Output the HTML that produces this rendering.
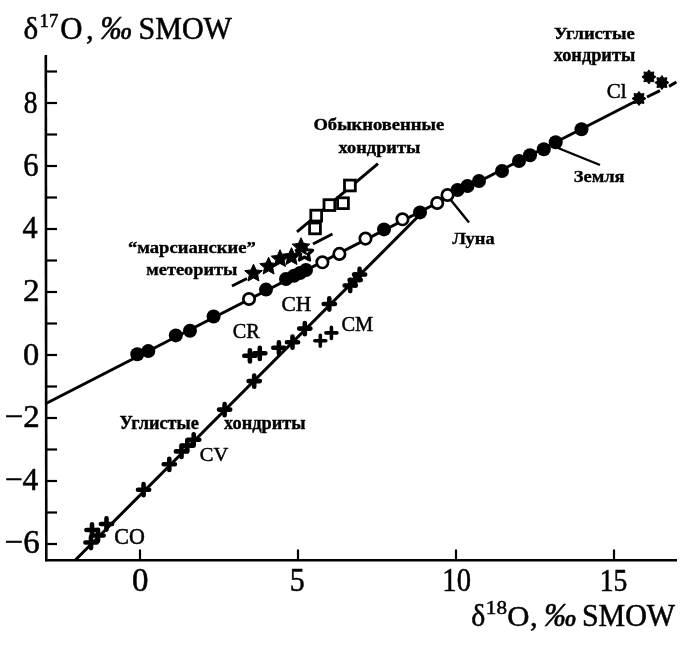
<!DOCTYPE html>
<html><head><meta charset="utf-8"><style>
html,body{margin:0;padding:0;background:#fff;}
svg{display:block;font-family:"Liberation Serif",serif;will-change:transform;}
</style></head><body>
<svg width="700" height="648" viewBox="0 0 700 648">
<rect width="700" height="648" fill="#fff"/>
<g stroke="#000" fill="none">
<line x1="45.8" y1="55" x2="46.3" y2="561.3" stroke-width="2.6"/>
<line x1="45" y1="560.2" x2="677" y2="560.2" stroke-width="2.4"/>
<line x1="46" y1="544.0" x2="57" y2="544.0" stroke-width="2.2"/>
<line x1="46" y1="512.5" x2="57" y2="512.5" stroke-width="2.2"/>
<line x1="46" y1="481.0" x2="57" y2="481.0" stroke-width="2.2"/>
<line x1="46" y1="449.5" x2="57" y2="449.5" stroke-width="2.2"/>
<line x1="46" y1="418.0" x2="57" y2="418.0" stroke-width="2.2"/>
<line x1="46" y1="386.5" x2="57" y2="386.5" stroke-width="2.2"/>
<line x1="46" y1="355.0" x2="57" y2="355.0" stroke-width="2.2"/>
<line x1="46" y1="323.5" x2="57" y2="323.5" stroke-width="2.2"/>
<line x1="46" y1="292.0" x2="57" y2="292.0" stroke-width="2.2"/>
<line x1="46" y1="260.5" x2="57" y2="260.5" stroke-width="2.2"/>
<line x1="46" y1="229.0" x2="57" y2="229.0" stroke-width="2.2"/>
<line x1="46" y1="197.5" x2="57" y2="197.5" stroke-width="2.2"/>
<line x1="46" y1="166.0" x2="57" y2="166.0" stroke-width="2.2"/>
<line x1="46" y1="134.5" x2="57" y2="134.5" stroke-width="2.2"/>
<line x1="46" y1="103.0" x2="57" y2="103.0" stroke-width="2.2"/>
<line x1="46" y1="71.5" x2="57" y2="71.5" stroke-width="2.2"/>
<line x1="140.0" y1="549.5" x2="140.0" y2="560" stroke-width="2.2"/>
<line x1="298.0" y1="549.5" x2="298.0" y2="560" stroke-width="2.2"/>
<line x1="456.0" y1="549.5" x2="456.0" y2="560" stroke-width="2.2"/>
<line x1="614.0" y1="549.5" x2="614.0" y2="560" stroke-width="2.2"/>
</g>
<line x1="46" y1="403.5" x2="640" y2="99" stroke="#000" stroke-width="3"/>
<line x1="647" y1="97" x2="660" y2="90.7" stroke="#000" stroke-width="3"/>
<line x1="669" y1="86.4" x2="676.4" y2="82" stroke="#000" stroke-width="3"/>
<line x1="75.4" y1="560" x2="419.3" y2="215.3" stroke="#000" stroke-width="3"/>
<line x1="297" y1="231.8" x2="378" y2="163.6" stroke="#000" stroke-width="3"/>
<line x1="232" y1="286" x2="247" y2="278.5" stroke="#000" stroke-width="3"/>
<line x1="313" y1="244" x2="332.4" y2="234" stroke="#000" stroke-width="3"/>
<line x1="450" y1="199" x2="469" y2="222.5" stroke="#000" stroke-width="2.4"/>
<line x1="558" y1="148" x2="600" y2="165" stroke="#000" stroke-width="2.4"/>
<circle cx="137.3" cy="354.2" r="7.0" fill="#000"/>
<circle cx="148.3" cy="351.1" r="7.0" fill="#000"/>
<circle cx="175.8" cy="335.4" r="7.0" fill="#000"/>
<circle cx="190" cy="330.7" r="7.0" fill="#000"/>
<circle cx="213.6" cy="316.5" r="7.0" fill="#000"/>
<circle cx="266" cy="289.6" r="7.0" fill="#000"/>
<circle cx="286" cy="279" r="7.0" fill="#000"/>
<circle cx="294" cy="275.7" r="7.0" fill="#000"/>
<circle cx="300" cy="273" r="7.0" fill="#000"/>
<circle cx="306" cy="270" r="7.0" fill="#000"/>
<circle cx="384" cy="229.4" r="7.0" fill="#000"/>
<circle cx="420" cy="212.4" r="7.0" fill="#000"/>
<circle cx="457.5" cy="190" r="7.0" fill="#000"/>
<circle cx="467.5" cy="186" r="7.0" fill="#000"/>
<circle cx="479" cy="181" r="7.0" fill="#000"/>
<circle cx="502" cy="171" r="7.0" fill="#000"/>
<circle cx="519" cy="161" r="7.0" fill="#000"/>
<circle cx="530" cy="155.2" r="7.0" fill="#000"/>
<circle cx="543.8" cy="149.3" r="7.0" fill="#000"/>
<circle cx="555.7" cy="142.2" r="7.0" fill="#000"/>
<circle cx="581.5" cy="129.3" r="7.0" fill="#000"/>
<circle cx="249" cy="299" r="5.7" fill="#fff" stroke="#000" stroke-width="2.7"/>
<circle cx="322.4" cy="262.3" r="5.7" fill="#fff" stroke="#000" stroke-width="2.7"/>
<circle cx="339.4" cy="253.9" r="5.7" fill="#fff" stroke="#000" stroke-width="2.7"/>
<circle cx="365.5" cy="238.6" r="5.7" fill="#fff" stroke="#000" stroke-width="2.7"/>
<circle cx="402.5" cy="219.3" r="5.7" fill="#fff" stroke="#000" stroke-width="2.7"/>
<circle cx="437.2" cy="203" r="5.7" fill="#fff" stroke="#000" stroke-width="2.7"/>
<circle cx="447.5" cy="195" r="5.7" fill="#fff" stroke="#000" stroke-width="2.7"/>
<rect x="309.6" y="223.0" width="10.8" height="10.8" fill="#fff" stroke="#000" stroke-width="2.8"/>
<rect x="310.8" y="210.2" width="10.8" height="10.8" fill="#fff" stroke="#000" stroke-width="2.8"/>
<rect x="324.0" y="199.7" width="10.8" height="10.8" fill="#fff" stroke="#000" stroke-width="2.8"/>
<rect x="337.6" y="197.79999999999998" width="10.8" height="10.8" fill="#fff" stroke="#000" stroke-width="2.8"/>
<rect x="344.5" y="180.1" width="10.8" height="10.8" fill="#fff" stroke="#000" stroke-width="2.8"/>
<polygon points="253.50,264.20 256.09,269.94 262.34,270.63 257.68,274.86 258.97,281.02 253.50,277.90 248.03,281.02 249.32,274.86 244.66,270.63 250.91,269.94" fill="#000" stroke="#000" stroke-width="1" stroke-linejoin="round"/>
<polygon points="268.60,257.20 271.19,262.94 277.44,263.63 272.78,267.86 274.07,274.02 268.60,270.90 263.13,274.02 264.42,267.86 259.76,263.63 266.01,262.94" fill="#000" stroke="#000" stroke-width="1" stroke-linejoin="round"/>
<polygon points="280.00,249.70 282.59,255.44 288.84,256.13 284.18,260.36 285.47,266.52 280.00,263.40 274.53,266.52 275.82,260.36 271.16,256.13 277.41,255.44" fill="#000" stroke="#000" stroke-width="1" stroke-linejoin="round"/>
<polygon points="291.50,247.70 294.09,253.44 300.34,254.13 295.68,258.36 296.97,264.52 291.50,261.40 286.03,264.52 287.32,258.36 282.66,254.13 288.91,253.44" fill="#000" stroke="#000" stroke-width="1" stroke-linejoin="round"/>
<polygon points="304.50,244.40 306.85,249.76 312.68,250.34 308.30,254.24 309.55,259.96 304.50,257.00 299.45,259.96 300.70,254.24 296.32,250.34 302.15,249.76" fill="#fff" stroke="#000" stroke-width="3.2" stroke-linejoin="round"/>
<polygon points="301.00,237.70 303.59,243.44 309.84,244.13 305.18,248.36 306.47,254.52 301.00,251.40 295.53,254.52 296.82,248.36 292.16,244.13 298.41,243.44" fill="#000" stroke="#000" stroke-width="1" stroke-linejoin="round"/>
<polygon points="639.00,91.50 640.84,94.07 643.95,93.55 643.43,96.66 646.00,98.50 643.43,100.34 643.95,103.45 640.84,102.93 639.00,105.50 637.16,102.93 634.05,103.45 634.57,100.34 632.00,98.50 634.57,96.66 634.05,93.55 637.16,94.07" fill="#000" stroke="#000" stroke-width="1" stroke-linejoin="round"/>
<polygon points="648.90,69.90 650.74,72.47 653.85,71.95 653.33,75.06 655.90,76.90 653.33,78.74 653.85,81.85 650.74,81.33 648.90,83.90 647.06,81.33 643.95,81.85 644.47,78.74 641.90,76.90 644.47,75.06 643.95,71.95 647.06,72.47" fill="#000" stroke="#000" stroke-width="1" stroke-linejoin="round"/>
<polygon points="661.90,75.60 663.74,78.17 666.85,77.65 666.33,80.76 668.90,82.60 666.33,84.44 666.85,87.55 663.74,87.03 661.90,89.60 660.06,87.03 656.95,87.55 657.47,84.44 654.90,82.60 657.47,80.76 656.95,77.65 660.06,78.17" fill="#000" stroke="#000" stroke-width="1" stroke-linejoin="round"/>
<path d="M244.3,355.8H255.5M249.9,350.2V361.40000000000003" stroke="#000" stroke-width="4.6" stroke-linecap="round"/>
<path d="M254.20000000000002,353.3H265.40000000000003M259.8,347.7V358.90000000000003" stroke="#000" stroke-width="4.6" stroke-linecap="round"/>
<path d="M248.6,381.1H259.8M254.2,375.5V386.70000000000005" stroke="#000" stroke-width="4.6" stroke-linecap="round"/>
<path d="M273.29999999999995,347.8H284.5M278.9,342.2V353.40000000000003" stroke="#000" stroke-width="4.6" stroke-linecap="round"/>
<path d="M286.9,342.2H298.1M292.5,336.59999999999997V347.8" stroke="#000" stroke-width="4.6" stroke-linecap="round"/>
<path d="M299.2,328.6H310.40000000000003M304.8,323.0V334.20000000000005" stroke="#000" stroke-width="4.6" stroke-linecap="round"/>
<path d="M323.7,304H334.90000000000003M329.3,298.4V309.6" stroke="#000" stroke-width="4.6" stroke-linecap="round"/>
<path d="M344.59999999999997,285.5H355.8M350.2,279.9V291.1" stroke="#000" stroke-width="4.6" stroke-linecap="round"/>
<path d="M349.59999999999997,280H360.8M355.2,274.4V285.6" stroke="#000" stroke-width="4.6" stroke-linecap="round"/>
<path d="M354.0,274.5H365.20000000000005M359.6,268.9V280.1" stroke="#000" stroke-width="4.6" stroke-linecap="round"/>
<path d="M219.0,409.6H230.2M224.6,404.0V415.20000000000005" stroke="#000" stroke-width="4.6" stroke-linecap="round"/>
<path d="M188.1,439.8H199.29999999999998M193.7,434.2V445.40000000000003" stroke="#000" stroke-width="4.6" stroke-linecap="round"/>
<path d="M181.70000000000002,445.6H192.9M187.3,440.0V451.20000000000005" stroke="#000" stroke-width="4.6" stroke-linecap="round"/>
<path d="M175.9,451.4H187.1M181.5,445.79999999999995V457.0" stroke="#000" stroke-width="4.6" stroke-linecap="round"/>
<path d="M163.70000000000002,464.3H174.9M169.3,458.7V469.90000000000003" stroke="#000" stroke-width="4.6" stroke-linecap="round"/>
<path d="M138.0,489.7H149.2M143.6,484.09999999999997V495.3" stroke="#000" stroke-width="4.6" stroke-linecap="round"/>
<path d="M86.4,530H97.6M92,524.4V535.6" stroke="#000" stroke-width="4.6" stroke-linecap="round"/>
<path d="M100.9,524H112.1M106.5,518.4V529.6" stroke="#000" stroke-width="4.6" stroke-linecap="round"/>
<path d="M85.4,542.5H96.6M91,536.9V548.1" stroke="#000" stroke-width="4.6" stroke-linecap="round"/>
<path d="M92.4,535.5H103.6M98,529.9V541.1" stroke="#000" stroke-width="4.6" stroke-linecap="round"/>
<path d="M314.8,340.8H325.8M320.3,335.3V346.3" stroke="#000" stroke-width="3.6" stroke-linecap="round"/>
<path d="M325.9,332.9H336.9M331.4,327.4V338.4" stroke="#000" stroke-width="3.6" stroke-linecap="round"/>
<text transform="translate(23.59,38.60) scale(1.008,1.014)" font-size="31" stroke="#000" stroke-width="0.5">δ</text>
<text transform="translate(39.62,27.10) scale(1.038,1.054)" font-size="18" stroke="#000" stroke-width="0.5">17</text>
<text transform="translate(60.17,38.60) scale(1.025,1.021)" font-size="30" stroke="#000" stroke-width="0.5">O</text>
<text transform="translate(85.88,38.60) scale(1.020,1.000)" font-size="30" stroke="#000" stroke-width="0.5">,</text>
<text transform="translate(100.14,38.60) scale(1.057,1.116)" font-size="30" font-style="italic" stroke="#000" stroke-width="0.5">‰</text>
<text transform="translate(138.60,38.60) scale(1.000,1.084)" font-size="30" stroke="#000" stroke-width="0.5">SMOW</text>
<text transform="translate(471.24,626.00) scale(0.962,0.986)" font-size="31" stroke="#000" stroke-width="0.5">δ</text>
<text transform="translate(485.85,614.00) scale(1.173,1.008)" font-size="18" stroke="#000" stroke-width="0.5">18</text>
<text transform="translate(507.18,626.00) scale(1.025,0.989)" font-size="30" stroke="#000" stroke-width="0.5">O</text>
<text transform="translate(529.98,626.00) scale(1.020,1.000)" font-size="30" stroke="#000" stroke-width="0.5">,</text>
<text transform="translate(543.92,626.00) scale(1.082,1.111)" font-size="30" font-style="italic" stroke="#000" stroke-width="0.5">‰</text>
<text transform="translate(581.90,626.00) scale(0.999,1.068)" font-size="30" stroke="#000" stroke-width="0.5">SMOW</text>
<text transform="translate(553.92,38.50) scale(0.978,0.931)" font-size="19" font-weight="bold" stroke="#000" stroke-width="0.4">Углистые</text>
<text transform="translate(553.70,61.30) scale(0.965,1.044)" font-size="19" font-weight="bold" stroke="#000" stroke-width="0.4">хондриты</text>
<text transform="translate(313.42,130.30) scale(0.977,0.857)" font-size="19" font-weight="bold" stroke="#000" stroke-width="0.4">Обыкновенные</text>
<text transform="translate(338.60,152.60) scale(0.967,0.933)" font-size="19" font-weight="bold" stroke="#000" stroke-width="0.4">хондриты</text>
<text transform="translate(127.92,252.80) scale(0.981,0.915)" font-size="19" font-weight="bold" stroke="#000" stroke-width="0.4">“марсианские”</text>
<text transform="translate(146.23,275.00) scale(0.967,0.856)" font-size="19" font-weight="bold" stroke="#000" stroke-width="0.4">метеориты</text>
<text transform="translate(452.30,244.20) scale(0.974,0.915)" font-size="19" font-weight="bold" stroke="#000" stroke-width="0.4">Луна</text>
<text transform="translate(573.83,182.20) scale(0.969,0.877)" font-size="19" font-weight="bold" stroke="#000" stroke-width="0.4">Земля</text>
<text transform="translate(119.44,428.50) scale(0.960,0.946)" font-size="19" font-weight="bold" stroke="#000" stroke-width="0.4">Углистые</text>
<text transform="translate(224.10,428.50) scale(0.964,1.011)" font-size="19" font-weight="bold" stroke="#000" stroke-width="0.4">хондриты</text>
<text transform="translate(606.81,98.45) scale(0.994,1.029)" font-size="21" stroke="#000" stroke-width="0.5">Cl</text>
<text transform="translate(281.38,311.20) scale(1.022,0.986)" font-size="21" stroke="#000" stroke-width="0.5">CH</text>
<text transform="translate(232.74,338.30) scale(0.963,1.014)" font-size="21" stroke="#000" stroke-width="0.5">CR</text>
<text transform="translate(341.43,330.90) scale(0.974,1.036)" font-size="21" stroke="#000" stroke-width="0.5">CM</text>
<text transform="translate(199.83,461.00) scale(0.975,0.943)" font-size="21" stroke="#000" stroke-width="0.5">CV</text>
<text transform="translate(114.35,543.60) scale(1.048,1.057)" font-size="21" stroke="#000" stroke-width="0.5">CO</text>
<text transform="translate(23.68,112.90) scale(0.915,1.074)" font-size="30" stroke="#000" stroke-width="0.5">8</text>
<text transform="translate(23.18,175.70) scale(1.023,1.105)" font-size="30" stroke="#000" stroke-width="0.5">6</text>
<text transform="translate(22.39,238.20) scale(1.007,1.021)" font-size="30" stroke="#000" stroke-width="0.5">4</text>
<text transform="translate(23.09,300.70) scale(1.108,1.021)" font-size="30" stroke="#000" stroke-width="0.5">2</text>
<text transform="translate(23.12,364.80) scale(1.085,1.063)" font-size="30" stroke="#000" stroke-width="0.5">0</text>
<text transform="translate(4.60,427.30) scale(1.097,1.063)" font-size="30" stroke="#000" stroke-width="0.5">−2</text>
<text transform="translate(4.65,490.20) scale(1.052,1.068)" font-size="30" stroke="#000" stroke-width="0.5">−4</text>
<text transform="translate(4.71,553.40) scale(1.093,1.116)" font-size="30" stroke="#000" stroke-width="0.5">−6</text>
<text transform="translate(131.90,591.40) scale(1.100,1.126)" font-size="30" stroke="#000" stroke-width="0.5">0</text>
<text transform="translate(289.70,591.40) scale(1.000,1.111)" font-size="30" stroke="#000" stroke-width="0.5">5</text>
<text transform="translate(442.34,591.40) scale(0.954,1.095)" font-size="30" stroke="#000" stroke-width="0.5">10</text>
<text transform="translate(599.63,591.40) scale(0.923,1.079)" font-size="30" stroke="#000" stroke-width="0.5">15</text>
</svg></body></html>
